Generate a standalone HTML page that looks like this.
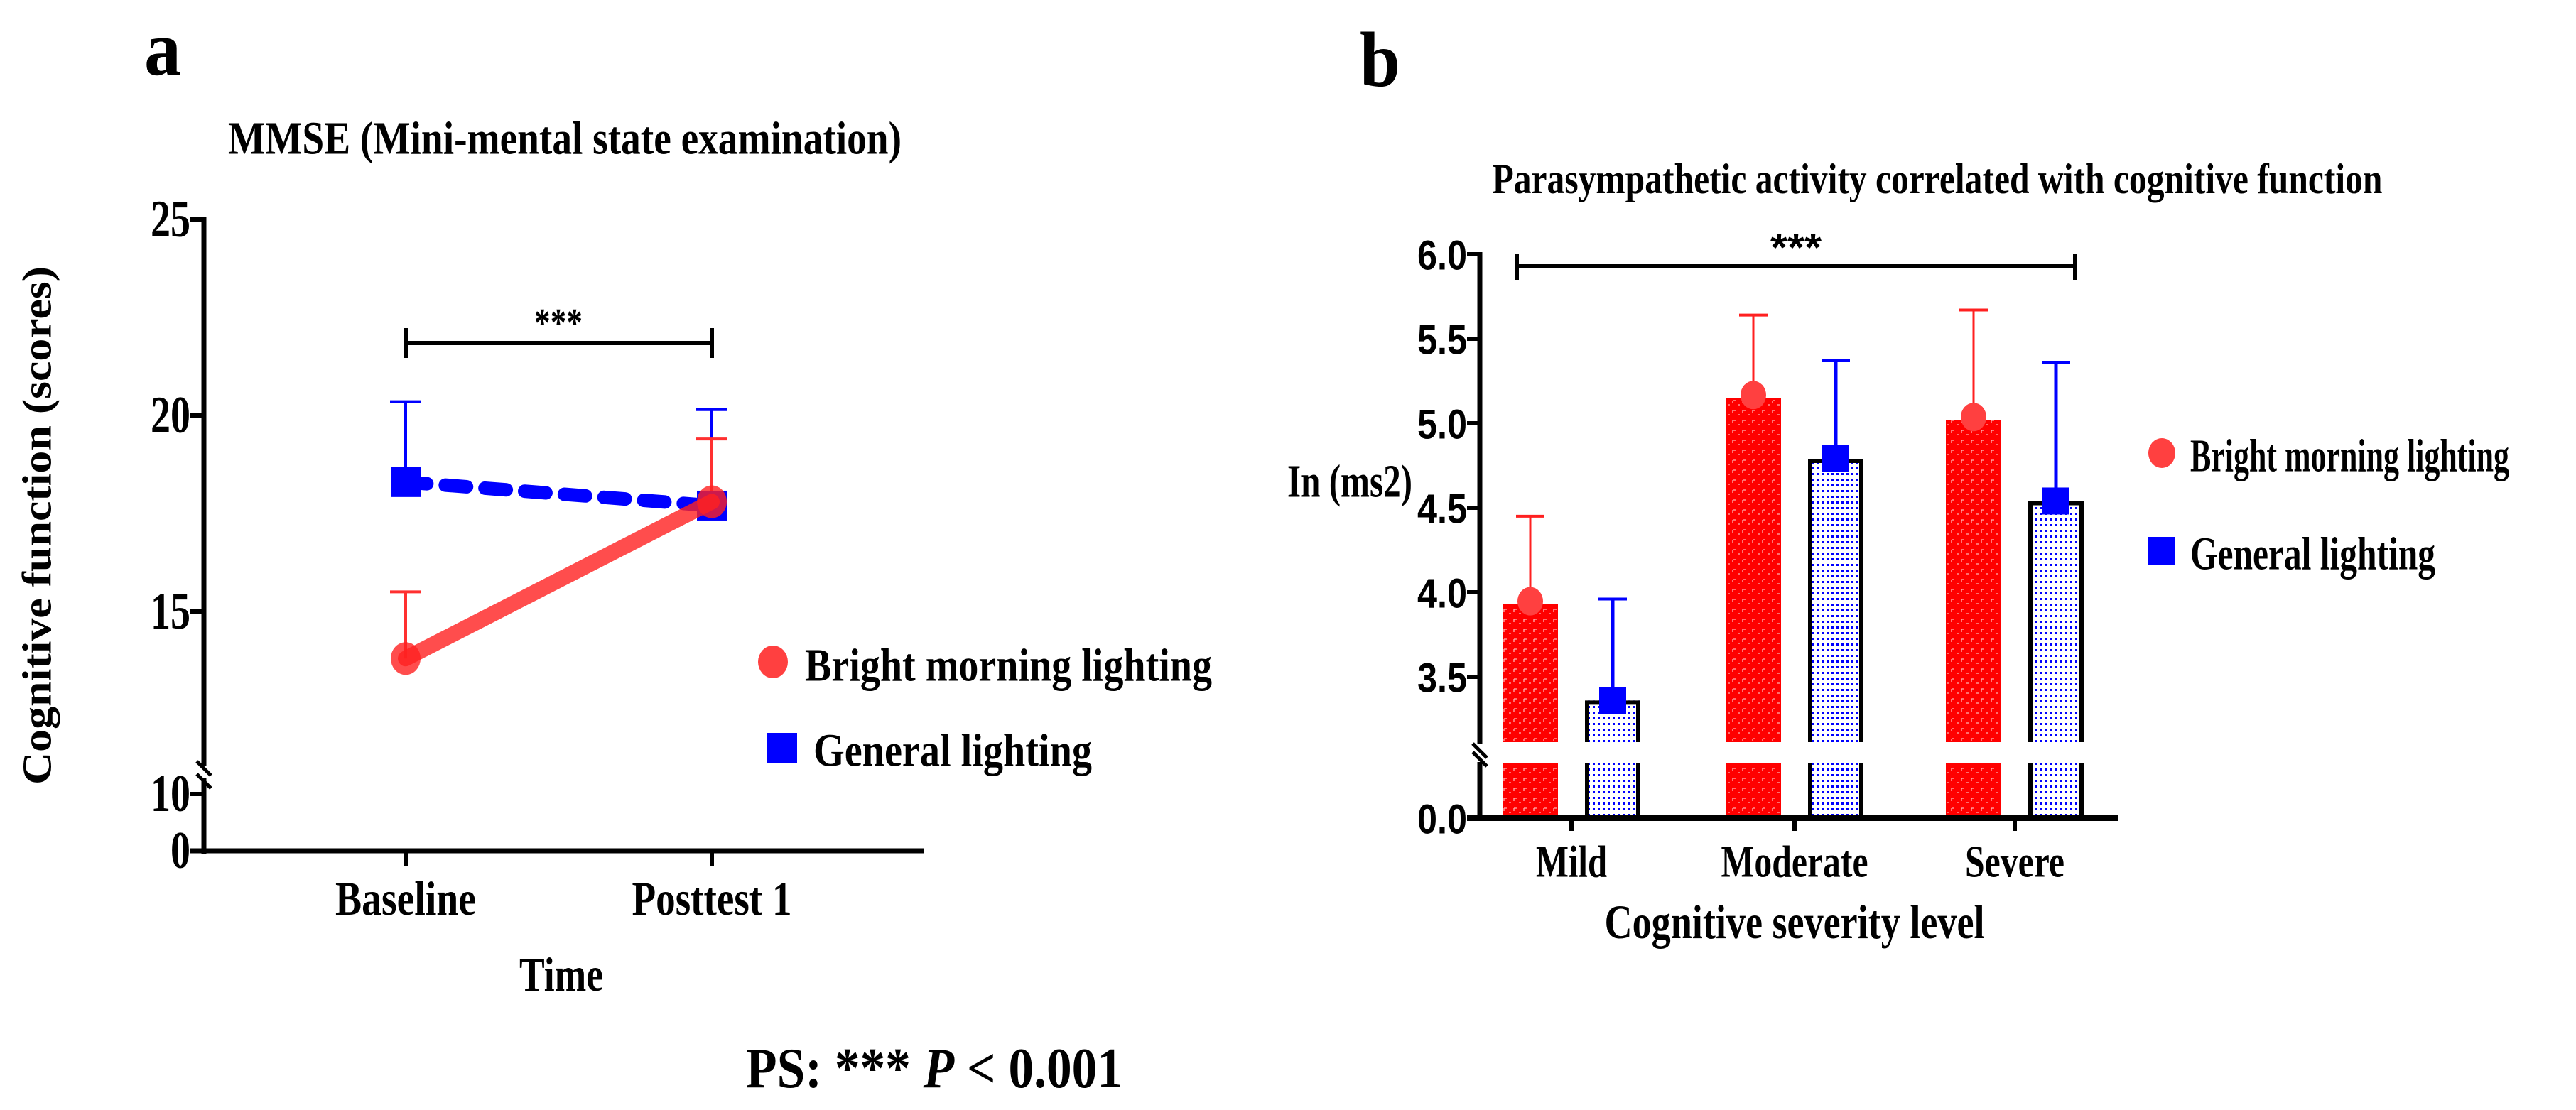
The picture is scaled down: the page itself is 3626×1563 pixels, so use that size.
<!DOCTYPE html>
<html><head><meta charset="utf-8"><style>
html,body{margin:0;padding:0;background:#fff;}
svg{display:block;}
.serif{font-family:"Liberation Serif",serif;font-weight:bold;}
.sans{font-family:"Liberation Sans",sans-serif;font-weight:bold;}
</style></head><body>
<svg id="fig" width="3626" height="1563" viewBox="0 0 3626 1563" xmlns="http://www.w3.org/2000/svg">
<defs>
<pattern id="redPat" width="14" height="14" patternUnits="userSpaceOnUse">
<rect width="14" height="14" fill="#ff0000"/>
<path d="M3 4 h4 M3 4 v4 M10 10 h3" stroke="#ffb0b0" stroke-width="1.3"/>
</pattern>
<pattern id="bluePat" width="7" height="8" patternUnits="userSpaceOnUse">
<rect width="7" height="8" fill="#fff"/>
<rect x="2" y="2" width="3" height="3" fill="#0000ff"/>
</pattern>
</defs>
<g id="panelA"></g>
<g id="panelB"></g>
</svg>
<script>
// ---- Panel a data ----
const timeCats = ["Baseline", "Posttest 1"];
const brightMeans = [13.8, 17.8];
const brightUpper = [15.5, 19.4];
const generalMeans = [18.3, 17.7];
const generalUpper = [20.35, 20.15];
const aTicks = [15, 20, 25];
const aTickLabels = ["15", "20", "25"];

// ---- Panel b data ----
const sevCats = ["Mild", "Moderate", "Severe"];
const brightBar = [3.93, 5.15, 5.02];
const brightBarUpper = [4.45, 5.64, 5.67];
const generalBar = [3.36, 4.79, 4.54];
const generalBarUpper = [3.96, 5.37, 5.36];
const bTicks = [3.5, 4.0, 4.5, 5.0, 5.5, 6.0];
const bTickLabels = ["3.5", "4.0", "4.5", "5.0", "5.5", "6.0"];

const NS = "http://www.w3.org/2000/svg";
function mk(parent, tag, attrs, text) {
  const e = document.createElementNS(NS, tag);
  for (const k in attrs) e.setAttribute(k, attrs[k]);
  if (text !== undefined) e.textContent = text;
  parent.appendChild(e);
  return e;
}
function txt(parent, x, y, s, size, len, anchor, cls, name) {
  const t = mk(parent, "text", {x: x, y: y, "font-size": size, "text-anchor": anchor || "start", "class": cls || "serif", "dominant-baseline": "central"}, s);
  if (len) { t.setAttribute("textLength", len); t.setAttribute("lengthAdjust", "spacingAndGlyphs"); }
  
  
  return t;
}

// ================= Panel A =================
const A = document.getElementById("panelA");
const ay = v => 585 - (v - 20) * 55.2;
const ax = i => [571, 1002][i];
const ax0 = 287, axEnd = 1300, axBase = 1198;

txt(A, 203, 68, "a", 110, 52, "start", "serif", "panel-a-letter");
txt(A, 795, 195, "MMSE (Mini-mental state examination)", 66, 948, "middle", "serif", "panel-a-title");

let g = mk(A, "g", {});


mk(g, "line", {x1: ax0, y1: 306, x2: ax0, y2: 1078, stroke: "#000", "stroke-width": 7});
mk(g, "line", {x1: ax0, y1: 1095, x2: ax0, y2: 1202, stroke: "#000", "stroke-width": 7});
mk(g, "line", {x1: ax0 - 10, y1: 1072, x2: ax0 + 10, y2: 1092, stroke: "#000", "stroke-width": 5});
mk(g, "line", {x1: ax0 - 10, y1: 1090, x2: ax0 + 10, y2: 1110, stroke: "#000", "stroke-width": 5});
aTicks.forEach((v, i) => {
  mk(g, "line", {x1: ax0 - 20, y1: ay(v), x2: ax0, y2: ay(v), stroke: "#000", "stroke-width": 6});
  txt(A, 268, ay(v), aTickLabels[i], 74, 56, "end", "serif", "y-tick-label");
});
mk(g, "line", {x1: ax0 - 20, y1: 1118, x2: ax0, y2: 1118, stroke: "#000", "stroke-width": 6});
txt(A, 268, 1118, "10", 74, 56, "end", "serif", "y-tick-label");
txt(A, 268, 1198, "0", 74, 28, "end", "serif", "y-tick-label");

let xa = mk(A, "g", {});


mk(xa, "line", {x1: ax0 - 20, y1: axBase, x2: axEnd, y2: axBase, stroke: "#000", "stroke-width": 7});
timeCats.forEach((c, i) => {
  mk(xa, "line", {x1: ax(i), y1: axBase, x2: ax(i), y2: 1220, stroke: "#000", "stroke-width": 6});
  txt(A, ax(i), 1265, c, 68, [198, 225][i], "middle", "serif", "x-tick-label");
});
txt(A, 790, 1372, "Time", 68, 118, "middle", "serif", "x-axis-title");
let yt = txt(A, 0, 0, "Cognitive function (scores)", 58, 730, "middle", "serif", "y-axis-title");
yt.setAttribute("transform", "translate(52,740) rotate(-90)");

// bracket
let br = mk(A, "g", {});


mk(br, "line", {x1: ax(0), y1: 483, x2: ax(1), y2: 483, stroke: "#000", "stroke-width": 6});
mk(br, "line", {x1: ax(0), y1: 462, x2: ax(0), y2: 504, stroke: "#000", "stroke-width": 6});
mk(br, "line", {x1: ax(1), y1: 462, x2: ax(1), y2: 504, stroke: "#000", "stroke-width": 6});
txt(A, 786, 455, "***", 56, 68, "middle", "serif", "significance-stars-a");

// error bars
function errA(i, mean, up, color, name) {
  const e = mk(A, "g", {});
  
  
  mk(e, "line", {x1: ax(i), y1: ay(mean), x2: ax(i), y2: ay(up), stroke: color, "stroke-width": 4});
  mk(e, "line", {x1: ax(i) - 22, y1: ay(up), x2: ax(i) + 22, y2: ay(up), stroke: color, "stroke-width": 4});
}
generalMeans.forEach((m, i) => errA(i, m, generalUpper[i], "#0000ff", "general-error-bar"));
brightMeans.forEach((m, i) => errA(i, m, brightUpper[i], "#ff3030", "bright-error-bar"));

// general line + markers
let gl = mk(A, "line", {x1: ax(0), y1: ay(generalMeans[0]), x2: ax(1), y2: ay(generalMeans[1]), stroke: "#0000ff", "stroke-width": 19, "stroke-dasharray": "30 26", "stroke-linecap": "round"});


generalMeans.forEach((m, i) => {
  const r = mk(A, "rect", {x: ax(i) - 21, y: ay(m) - 21, width: 42, height: 42, fill: "#0000ff"});
  
  
});
let rl = mk(A, "line", {x1: ax(0), y1: ay(brightMeans[0]), x2: ax(1), y2: ay(brightMeans[1]), stroke: "#ff2020", "stroke-opacity": 0.8, "stroke-width": 22, "stroke-linecap": "round"});


brightMeans.forEach((m, i) => {
  const c = mk(A, "ellipse", {cx: ax(i), cy: ay(m), rx: 21, ry: 23, fill: "#ff2020", "fill-opacity": 0.8});
  
  
});

// legend a
let la = mk(A, "g", {});


mk(la, "ellipse", {cx: 1088, cy: 932, rx: 21, ry: 23, fill: "#ff4040"});
txt(la, 1133, 937, "Bright morning lighting", 66, 573, "start", "serif", "legend-entry-bright");
mk(la, "rect", {x: 1080, y: 1032, width: 42, height: 42, fill: "#0000ff"});
txt(la, 1145, 1057, "General lighting", 66, 392, "start", "serif", "legend-entry-general");

let ps = txt(A, 1050, 1505, "", 80, 0, "start", "serif", "ps-note");
ps.innerHTML = 'PS:  *** <tspan font-style="italic">P</tspan> &lt; 0.001';
ps.setAttribute("textLength", 530);
ps.setAttribute("lengthAdjust", "spacingAndGlyphs");

// ================= Panel B =================
const B = document.getElementById("panelB");
const by = v => 358 + (6.0 - v) * 238;
const bx = i => [2212, 2526, 2836][i];
const bx0 = 2083, bxEnd = 2982, bBase = 1152, gapTop = 1045, gapBot = 1075;

txt(B, 1914, 84, "b", 110, 57, "start", "serif", "panel-b-letter");
txt(B, 2727, 252, "Parasympathetic activity correlated with cognitive function", 60, 1253, "middle", "serif", "panel-b-title");

let yb = mk(B, "g", {});


mk(yb, "line", {x1: bx0, y1: 355, x2: bx0, y2: gapTop + 2, stroke: "#000", "stroke-width": 7});
mk(yb, "line", {x1: bx0, y1: gapBot - 2, x2: bx0, y2: bBase, stroke: "#000", "stroke-width": 7});
mk(yb, "line", {x1: bx0 - 10, y1: gapTop + 2, x2: bx0 + 10, y2: gapTop + 22, stroke: "#000", "stroke-width": 5});
mk(yb, "line", {x1: bx0 - 10, y1: gapTop + 14, x2: bx0 + 10, y2: gapTop + 34, stroke: "#000", "stroke-width": 5});
bTicks.forEach((v, i) => {
  mk(yb, "line", {x1: bx0 - 18, y1: by(v), x2: bx0, y2: by(v), stroke: "#000", "stroke-width": 6});
  txt(B, 2065, by(v) + 2, bTickLabels[i], 58, 70, "end", "sans", "y-tick-label-b");
});
mk(yb, "line", {x1: bx0 - 18, y1: bBase, x2: bx0, y2: bBase, stroke: "#000", "stroke-width": 6});
txt(B, 2065, bBase + 2, "0.0", 58, 70, "end", "sans", "y-tick-label-b");
txt(B, 1812, 678, "In (ms2)", 66, 176, "start", "serif", "y-axis-title-b");

// bars
function bar(i, val, up, isBright) {
  const x = isBright ? bx(i) - 97 : bx(i) + 19;
  const w = 78;
  const gg = mk(B, "g", {});
  
  
  const fill = isBright ? "url(#redPat)" : "url(#bluePat)";
  const top = by(val);
  mk(gg, "rect", {x: x, y: top, width: w, height: gapTop - top, fill: fill});
  mk(gg, "rect", {x: x, y: gapBot, width: w, height: bBase - gapBot, fill: fill});
  if (!isBright) {
    const p = `M${x + 3},${gapTop} V${top + 3} H${x + w - 3} V${gapTop}`;
    mk(gg, "path", {d: p, fill: "none", stroke: "#000", "stroke-width": 6});
    mk(gg, "path", {d: `M${x + 3},${gapBot} V${bBase} M${x + w - 3},${gapBot} V${bBase}`, fill: "none", stroke: "#000", "stroke-width": 6});
  }
  const c = bx(i) + (isBright ? -58 : 58);
  const col = isBright ? "#ff2020" : "#0000ff";
  mk(gg, "line", {x1: c, y1: top, x2: c, y2: by(up), stroke: col, "stroke-width": isBright ? 3 : 5});
  mk(gg, "line", {x1: c - 20, y1: by(up), x2: c + 20, y2: by(up), stroke: col, "stroke-width": 4});
  if (isBright) mk(gg, "ellipse", {cx: c, cy: top - 4, rx: 18, ry: 20, fill: "#ff4040"});
  else mk(gg, "rect", {x: c - 19, y: top - 19, width: 38, height: 38, fill: "#0000ff"});
}
sevCats.forEach((c, i) => {
  bar(i, brightBar[i], brightBarUpper[i], true);
  bar(i, generalBar[i], generalBarUpper[i], false);
});

let xb = mk(B, "g", {});


mk(xb, "line", {x1: bx0 - 18, y1: bBase, x2: bxEnd, y2: bBase, stroke: "#000", "stroke-width": 8});
sevCats.forEach((c, i) => {
  mk(xb, "line", {x1: bx(i), y1: bBase, x2: bx(i), y2: 1170, stroke: "#000", "stroke-width": 6});
  txt(B, bx(i), 1213, c, 64, [100, 207, 140][i], "middle", "serif", "x-tick-label-b");
});
txt(B, 2526, 1298, "Cognitive severity level", 68, 535, "middle", "serif", "x-axis-title-b");

let bb = mk(B, "g", {});


mk(bb, "line", {x1: 2135, y1: 375, x2: 2921, y2: 375, stroke: "#000", "stroke-width": 6});
mk(bb, "line", {x1: 2135, y1: 358, x2: 2135, y2: 394, stroke: "#000", "stroke-width": 6});
mk(bb, "line", {x1: 2921, y1: 358, x2: 2921, y2: 394, stroke: "#000", "stroke-width": 6});
txt(B, 2528, 348, "***", 56, 72, "middle", "sans", "significance-stars-b");

let lb = mk(B, "g", {});


mk(lb, "ellipse", {cx: 3043, cy: 638, rx: 19, ry: 21, fill: "#ff4040"});
txt(lb, 3083, 642, "Bright morning lighting", 66, 449, "start", "serif", "legend-entry-bright-b");
mk(lb, "rect", {x: 3024, y: 756, width: 38, height: 40, fill: "#0000ff"});
txt(lb, 3083, 780, "General lighting", 66, 345, "start", "serif", "legend-entry-general-b");
</script>
</body></html>
